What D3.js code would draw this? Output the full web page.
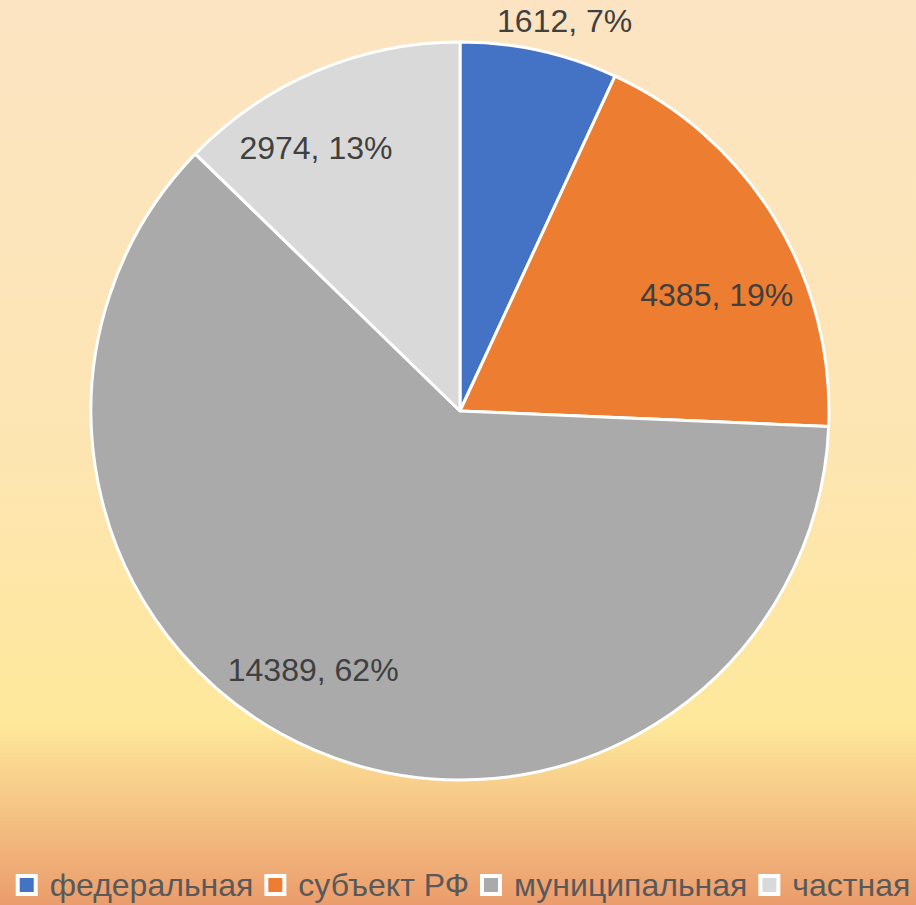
<!doctype html>
<meta charset="utf-8">
<script src="https://d3js.org/d3.v7.min.js"></script>
<style>
  body { margin: 0; }
  svg { display: block; font-family: "Liberation Sans", Arial, sans-serif; }
</style>
<body></body>
<script>

var width = 916;
var height = 905;

// data
var categories = ["федеральная", "субъект РФ", "муниципальная", "частная"];
var values = [1612, 4385, 14389, 2974];
var colors = ["#4472c4", "#ed7d31", "#aaaaaa", "#d9d9d9"];

// label nudges (layout only), in px from the default spot
var labelShift = [[18, 3], [11, 34], [-33, -6], [-32, 2]];

var cx = 460, cy = 411, radius = 369;

var svg = d3.select("body")
        .append("svg")
        .attr("width", width)
        .attr("height", height);

var grad = svg.append("defs")
        .append("linearGradient")
        .attr("id", "bg")
        .attr("x1", 0).attr("y1", 0)
        .attr("x2", 0).attr("y2", 1);

grad.append("stop").attr("offset", "0").attr("stop-color", "#fce4c3");
grad.append("stop").attr("offset", "0.5").attr("stop-color", "#fde5b2");
grad.append("stop").attr("offset", "0.8").attr("stop-color", "#fee89a");
grad.append("stop").attr("offset", "1").attr("stop-color", "#eb9c6c");

svg.append("rect")
        .attr("width", width)
        .attr("height", height)
        .attr("fill", "url(#bg)");

var total = d3.sum(values);

var pie = d3.pie()
        .sort(null)
        .value(function(d){ return d; });

var arc = d3.arc()
        .innerRadius(0)
        .outerRadius(radius);

var labelArc = d3.arc()
        .innerRadius(radius * 0.78)
        .outerRadius(radius * 0.78);

var outerArc = d3.arc()
        .innerRadius(radius + 34)
        .outerRadius(radius + 34);

var arcs = pie(values);

var g = svg.append("g")
        .attr("transform", "translate(" + cx + "," + cy + ")");

g.selectAll("path")
        .data(arcs)
        .enter()
        .append("path")
        .attr("d", arc)
        .attr("fill", function(d, i){ return colors[i]; })
        .attr("stroke", "#fff")
        .attr("stroke-width", 3)
        .attr("stroke-linejoin", "round");

g.selectAll("text.lbl")
        .data(arcs)
        .enter()
        .append("text")
        .attr("class", "lbl")
        .attr("transform", function(d, i){
            var p = (d.data / total < 0.1) ? outerArc.centroid(d) : labelArc.centroid(d);
            return "translate(" + (p[0] + labelShift[i][0]) + "," + (p[1] + labelShift[i][1]) + ")";
        })
        .attr("text-anchor", "middle")
        .attr("dy", "0.35em")
        .attr("font-size", 32)
        .attr("fill", "#404040")
        .text(function(d){
            return d.data + ", " + Math.round(d.data / total * 100) + "%";
        });

// legend
var legend = svg.append("g");
var x = 0;
var items = legend.selectAll("g")
        .data(categories)
        .enter()
        .append("g");

items.append("rect")
        .attr("x", 2)
        .attr("y", -9)
        .attr("width", 18)
        .attr("height", 18)
        .attr("fill", function(d, i){ return colors[i]; })
        .attr("stroke", "#fff")
        .attr("stroke-width", 4);

items.append("text")
        .attr("x", 34)
        .attr("dy", "0.35em")
        .attr("font-size", 32)
        .attr("fill", "#595959")
        .text(function(d){ return d; });

items.each(function(){
    var w = this.getBBox().width;
    d3.select(this).attr("transform", "translate(" + x + ",0)");
    x += w + 13;
});

legend.attr("transform", "translate(" + ((width - (x - 13)) / 2 + 4) + ",885)");

</script>
